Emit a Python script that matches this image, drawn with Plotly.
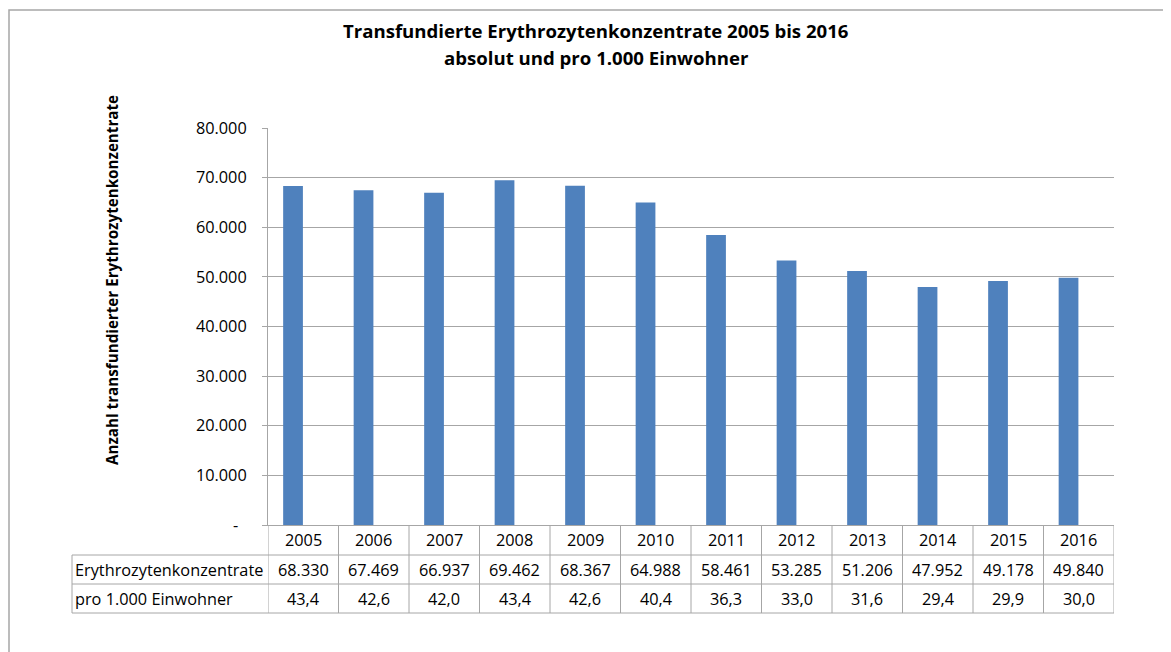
import plotly.graph_objects as go

years = ["2005", "2006", "2007", "2008", "2009", "2010", "2011", "2012", "2013", "2014", "2015", "2016"]
konzentrate = [68330, 67469, 66937, 69462, 68367, 64988, 58461, 53285, 51206, 47952, 49178, 49840]
pro_1000 = [43.4, 42.6, 42.0, 43.4, 42.6, 40.4, 36.3, 33.0, 31.6, 29.4, 29.9, 30.0]
y_tickvals = [0, 10000, 20000, 30000, 40000, 50000, 60000, 70000, 80000]
y_ticktext = ["-  ", "10.000", "20.000", "30.000", "40.000", "50.000", "60.000", "70.000", "80.000"]
row_labels = ["Erythrozytenkonzentrate", "pro 1.000 Einwohner"]
title_lines = ["Transfundierte Erythrozytenkonzentrate 2005 bis 2016", "absolut und pro 1.000 Einwohner"]
y_title = "Anzahl transfundierter Erythrozytenkonzentrate"

OFF = 8  # page body margin
W, H = 1171 - OFF, 652 - OFF
FONT = "Open Sans"
GRID = "#a6a6a6"
TXT = 16.3

def xp(px):
    return (px - OFF) / W

def yp(py):
    return 1 - (py - OFF) / H

PLOT_L, PLOT_R, PLOT_T, PLOT_B = 268, 1114, 128, 525
ROW_Y = [525, 555, 584, 613]
TABLE_L = 72

fig = go.Figure()
xs = list(range(len(years)))
# bars sit in the left slot of each category (Excel group layout)
fig.add_trace(go.Bar(x=xs, y=konzentrate, name=row_labels[0], marker_color="#4f81bd",
                     marker_line_width=0, hoverinfo="skip", width=0.28, offset=-0.285))

fig.update_layout(
    width=W, height=H,
    margin=dict(l=0, r=0, t=0, b=0, autoexpand=False),
    paper_bgcolor="white", plot_bgcolor="white",
    showlegend=False,
    font=dict(family=FONT, size=TXT, color="#000000"),
    xaxis=dict(domain=[xp(PLOT_L), xp(PLOT_R)], range=[-0.5, len(years) - 0.5], automargin=False,
               showticklabels=False, showgrid=False, zeroline=False,
               showline=True, linecolor=GRID, linewidth=1, ticks="", fixedrange=True),
    yaxis=dict(domain=[yp(PLOT_B), yp(PLOT_T)], range=[0, 80000], automargin=False,
               tickvals=y_tickvals, ticktext=y_ticktext,
               showgrid=True, gridcolor=GRID, gridwidth=1, zeroline=False,
               showline=True, linecolor=GRID, linewidth=1,
               ticks="outside", ticklen=5, tickcolor=GRID,
               ticklabelstandoff=12,
               tickfont=dict(family=FONT, size=TXT, color="#000000"), fixedrange=True),
)

shapes = []
# outer chart border
shapes.append(dict(type="rect", xref="paper", yref="paper", x0=xp(9), x1=1.05, y0=-0.05, y1=yp(10),
                   line=dict(color="#a6a6a6", width=1.5), fillcolor="rgba(0,0,0,0)", layer="below"))
# horizontal table lines
for py in ROW_Y[1:]:
    shapes.append(dict(type="line", xref="paper", yref="paper", x0=xp(TABLE_L), x1=xp(PLOT_R),
                       y0=yp(py), y1=yp(py), line=dict(color=GRID, width=1)))
# vertical table lines at category boundaries
for i in range(len(years) + 1):
    shapes.append(dict(type="line", xref="x", yref="paper", x0=i - 0.5, x1=i - 0.5,
                       y0=yp(ROW_Y[0]), y1=yp(ROW_Y[3]), line=dict(color=GRID, width=1)))
shapes.append(dict(type="line", xref="paper", yref="paper", x0=xp(TABLE_L), x1=xp(TABLE_L),
                   y0=yp(ROW_Y[1]), y1=yp(ROW_Y[3]), line=dict(color=GRID, width=1)))
fig.update_layout(shapes=shapes)

ann = []
row_centers = [(ROW_Y[k] + ROW_Y[k + 1]) / 2 for k in range(3)]
for i, yr in enumerate(years):
    ann.append(dict(x=i, y=yp(row_centers[0]), xref="x", yref="paper", text=yr, showarrow=False,
                    font=dict(size=TXT), xanchor="center", yanchor="middle"))
    ann.append(dict(x=i, y=yp(row_centers[1]), xref="x", yref="paper",
                    text=f"{konzentrate[i]:,}".replace(",", "."), showarrow=False,
                    font=dict(size=TXT), xanchor="center", yanchor="middle"))
    ann.append(dict(x=i, y=yp(row_centers[2]), xref="x", yref="paper",
                    text=f"{pro_1000[i]:.1f}".replace(".", ","), showarrow=False,
                    font=dict(size=TXT), xanchor="center", yanchor="middle"))
for k, lab in enumerate(row_labels):
    ann.append(dict(x=xp(73), y=yp(row_centers[k + 1]), xref="paper", yref="paper", text=lab,
                    showarrow=False, font=dict(size=TXT), xanchor="left", yanchor="middle"))
ann.append(dict(x=xp(596), y=yp(30), xref="paper", yref="paper", text=f"<b>{title_lines[0]}</b>",
                showarrow=False, font=dict(size=18.6), xanchor="center", yanchor="middle"))
ann.append(dict(x=xp(596), y=yp(57), xref="paper", yref="paper", text=f"<b>{title_lines[1]}</b>",
                showarrow=False, font=dict(size=18.6), xanchor="center", yanchor="middle"))
ann.append(dict(x=xp(112), y=yp(280), xref="paper", yref="paper", text=f"<b>{y_title}</b>",
                showarrow=False, textangle=-90, font=dict(size=15.2), xanchor="center", yanchor="middle"))
fig.update_layout(annotations=ann)

fig.write_html("out.html")
